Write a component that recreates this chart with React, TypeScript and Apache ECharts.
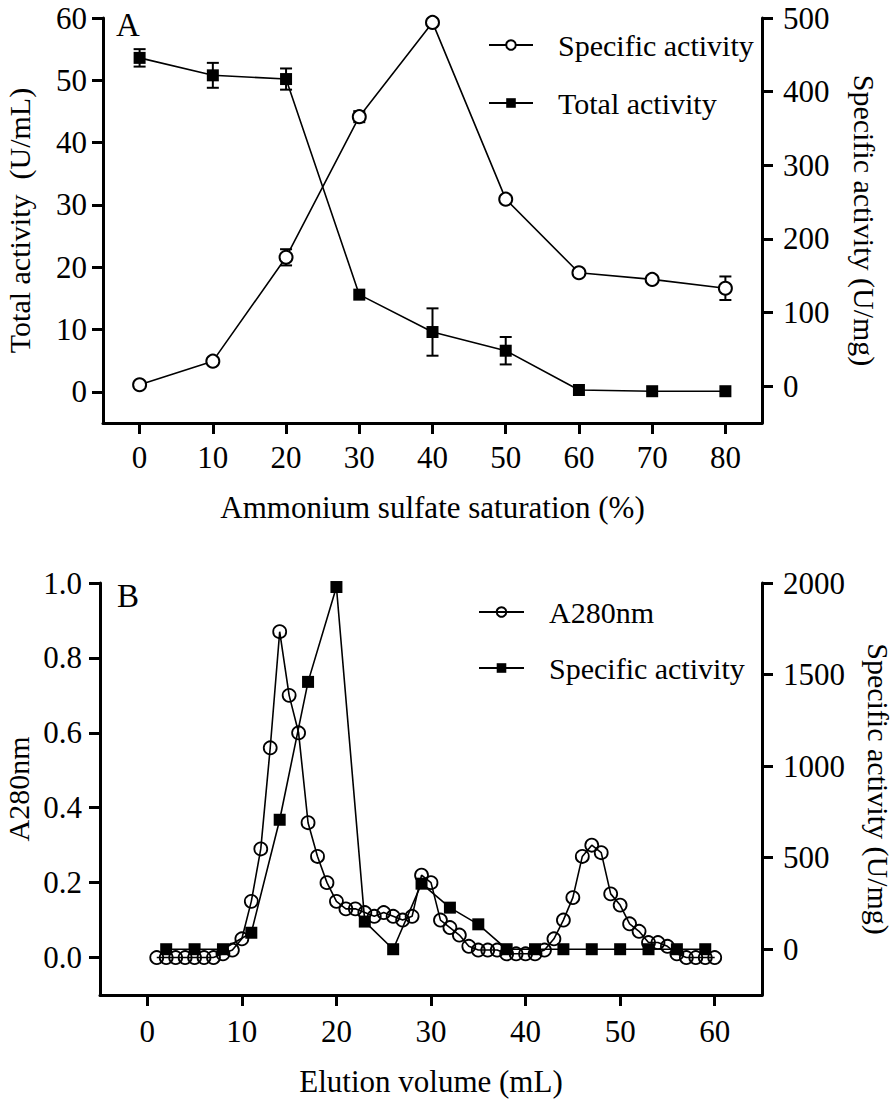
import React, { useEffect, useRef } from "react";
import * as echarts from "echarts";

// ---------- Panel A data ----------
const saturation = [0, 10, 20, 30, 40, 50, 60, 70, 80];
const totalActivity = [53.6, 50.8, 50.2, 15.6, 9.6, 6.6, 0.3, 0.1, 0.1];
const totalActivityErr = [1.4, 2.0, 1.7, 0, 3.8, 2.2, 0, 0, 0];
const specificActivityA = [2, 34, 175, 366, 494, 254, 154, 145, 133];
const specificActivityAErr = [0, 0, 11, 7.5, 0, 0, 0, 0, 16];

const aXTicks = [0, 10, 20, 30, 40, 50, 60, 70, 80];
const aLeftTicks = [0, 10, 20, 30, 40, 50, 60];
const aRightTicks = [0, 100, 200, 300, 400, 500];

// ---------- Panel B data ----------
const elutionVolume = [
  1, 2, 3, 4, 5, 6, 7, 8, 9, 10, 11, 12, 13, 14, 15, 16, 17, 18, 19, 20,
  21, 22, 23, 24, 25, 26, 27, 28, 29, 30, 31, 32, 33, 34, 35, 36, 37, 38, 39, 40,
  41, 42, 43, 44, 45, 46, 47, 48, 49, 50, 51, 52, 53, 54, 55, 56, 57, 58, 59, 60,
];
const a280 = [
  0, 0, 0, 0, 0, 0, 0, 0.01, 0.02, 0.05, 0.15, 0.29, 0.56, 0.87, 0.7, 0.6, 0.36, 0.27, 0.2, 0.15,
  0.13, 0.13, 0.12, 0.11, 0.12, 0.11, 0.1, 0.11, 0.22, 0.2, 0.1, 0.08, 0.06, 0.03, 0.02, 0.02, 0.02, 0.01, 0.01, 0.01,
  0.01, 0.02, 0.05, 0.1, 0.16, 0.27, 0.3, 0.28, 0.17, 0.14, 0.09, 0.07, 0.04, 0.04, 0.03, 0.01, 0, 0, 0, 0,
];
const fractionVolume = [2, 5, 8, 11, 14, 17, 20, 23, 26, 29, 32, 35, 38, 41, 44, 47, 50, 53, 56, 59];
const specificActivityB = [0, 0, 0, 90, 707, 1460, 1978, 151, 0, 358, 227, 136, 0, 0, 0, 0, 0, 0, 0, 0];

const bXTicks = [0, 10, 20, 30, 40, 50, 60];
const bLeftTicks = [0, 0.2, 0.4, 0.6, 0.8, 1.0];
const bRightTicks = [0, 500, 1000, 1500, 2000];

const FONT = '"Liberation Serif", "Times New Roman", Times, serif';

function axisBase(ticks: number[], margin: number, formatter: (v: number) => string, lineHeight?: number) {
  const label: any = {
    color: "#000",
    fontSize: 31,
    fontFamily: FONT,
    margin,
    customValues: ticks,
    formatter,
  };
  if (lineHeight) label.lineHeight = lineHeight;
  return {
    axisLine: { show: true, onZero: false, lineStyle: { color: "#000", width: 3 } },
    axisTick: { show: true, length: 11, lineStyle: { color: "#000", width: 3 }, customValues: ticks },
    axisLabel: label,
    splitLine: { show: false },
    nameTextStyle: { color: "#000", fontSize: 30, fontFamily: FONT },
  };
}

const plain = (v: number) => String(v);
const oneDecimal = (v: number) => v.toFixed(1);

function errorData(xs: number[], ys: number[], es: number[]) {
  const out: number[][] = [];
  xs.forEach((x, i) => {
    if (es[i] > 0) out.push([x, ys[i] - es[i], ys[i] + es[i]]);
  });
  return out;
}

function errorRender(params: any, api: any) {
  const x = api.value(0);
  const lo = api.coord([x, api.value(1)]);
  const hi = api.coord([x, api.value(2)]);
  const cap = 6;
  const style = { stroke: "#000", lineWidth: 2 };
  return {
    type: "group",
    children: [
      { type: "line", shape: { x1: lo[0], y1: lo[1], x2: hi[0], y2: hi[1] }, style },
      { type: "line", shape: { x1: lo[0] - cap, y1: lo[1], x2: lo[0] + cap, y2: lo[1] }, style },
      { type: "line", shape: { x1: hi[0] - cap, y1: hi[1], x2: hi[0] + cap, y2: hi[1] }, style },
    ],
  };
}

const circleWhite = { color: "#fff", borderColor: "#000", borderWidth: 2 };
const circleHollow = { color: "rgba(0,0,0,0)", borderColor: "#000", borderWidth: 1.8 };
const squareStyle = { color: "#000", borderColor: "#000", borderWidth: 0 };
const lineStyle = { color: "#000", width: 1.6 };

export default function App() {
  const ref = useRef<HTMLDivElement>(null);

  useEffect(() => {
    if (!ref.current) return;
    const chart = echarts.init(ref.current, null, { renderer: "svg" });

    const option: any = {
      animation: false,
      backgroundColor: "#fff",
      textStyle: { fontFamily: FONT },
      grid: [
        { left: 103, right: 134, top: 18, height: 405, outerBoundsMode: "none", containLabel: false },
        { left: 100, right: 134, top: 583, height: 412, outerBoundsMode: "none", containLabel: false },
      ],
      xAxis: [
        {
          type: "value",
          gridIndex: 0,
          min: -5,
          max: 85,
          name: "Ammonium sulfate saturation (%)",
          nameLocation: "middle",
          nameGap: 69,
          ...axisBase(aXTicks, 19, plain),
          nameTextStyle: { color: "#000", fontSize: 31, fontFamily: FONT },
        },
        {
          type: "value",
          gridIndex: 1,
          min: -5,
          max: 65,
          name: "Elution volume (mL)",
          nameLocation: "middle",
          nameGap: 71,
          ...axisBase(bXTicks, 21, plain),
          nameTextStyle: { color: "#000", fontSize: 31, fontFamily: FONT },
        },
      ],
      yAxis: [
        {
          type: "value",
          gridIndex: 0,
          position: "left",
          min: -5,
          max: 60,
          name: "Total activity  (U/mL)",
          nameLocation: "middle",
          nameGap: 69,
          nameMoveOverlap: false,
          ...axisBase(aLeftTicks, 16, plain, 20),
        },
        {
          type: "value",
          gridIndex: 0,
          position: "right",
          min: -50,
          max: 500,
          name: "Specific activity (U/mg)",
          nameLocation: "middle",
          nameRotate: -90,
          nameGap: 87,
          nameMoveOverlap: false,
          ...axisBase(aRightTicks, 21, plain, 20),
        },
        {
          type: "value",
          gridIndex: 1,
          position: "left",
          min: -0.1,
          max: 1.0,
          name: "A280nm",
          nameLocation: "middle",
          nameGap: 67,
          nameMoveOverlap: false,
          ...axisBase(bLeftTicks, 18, oneDecimal, 20),
        },
        {
          type: "value",
          gridIndex: 1,
          position: "right",
          min: -250,
          max: 2000,
          name: "Specific activity (U/mg)",
          nameLocation: "middle",
          nameRotate: -90,
          nameGap: 101,
          nameMoveOverlap: false,
          ...axisBase(bRightTicks, 21, plain, 20),
        },
      ],
      legend: [
        {
          orient: "vertical",
          left: 488,
          top: 30,
          padding: 0,
          itemWidth: 44,
          itemHeight: 12,
          itemGap: 28,
          data: ["Specific activity", "Total activity"],
          textStyle: { color: "#000", fontSize: 30, fontFamily: FONT, lineHeight: 30, padding: [0, 0, 0, 20] },
        },
        {
          orient: "vertical",
          left: 478,
          top: 597,
          padding: 0,
          itemWidth: 45,
          itemHeight: 12,
          itemGap: 26,
          data: ["A280nm", "Specific activity B"],
          formatter: (n: string) => (n === "Specific activity B" ? "Specific activity" : n),
          textStyle: { color: "#000", fontSize: 30, fontFamily: FONT, lineHeight: 30, padding: [0, 0, 0, 20] },
        },
      ],
      graphic: [
        { type: "text", left: 116, top: 8, style: { text: "A", fontSize: 33, fontFamily: FONT, fill: "#000" } },
        { type: "text", left: 117, top: 579, style: { text: "B", fontSize: 33, fontFamily: FONT, fill: "#000" } },
      ],
      series: [
        {
          type: "custom",
          name: "Total activity error",
          xAxisIndex: 0,
          yAxisIndex: 0,
          renderItem: errorRender,
          encode: { x: 0, y: [1, 2] },
          data: errorData(saturation, totalActivity, totalActivityErr),
          z: 1,
        },
        {
          type: "custom",
          name: "Specific activity error",
          xAxisIndex: 0,
          yAxisIndex: 1,
          renderItem: errorRender,
          encode: { x: 0, y: [1, 2] },
          data: errorData(saturation, specificActivityA, specificActivityAErr),
          z: 1,
        },
        {
          type: "line",
          name: "Specific activity",
          xAxisIndex: 0,
          yAxisIndex: 1,
          data: saturation.map((x, i) => [x, specificActivityA[i]]),
          symbol: "circle",
          symbolSize: 13,
          itemStyle: circleWhite,
          lineStyle,
          z: 3,
        },
        {
          type: "line",
          name: "Total activity",
          xAxisIndex: 0,
          yAxisIndex: 0,
          data: saturation.map((x, i) => [x, totalActivity[i]]),
          symbol: "rect",
          symbolSize: 12,
          itemStyle: squareStyle,
          lineStyle,
          z: 3,
        },
        {
          type: "line",
          name: "A280nm",
          xAxisIndex: 1,
          yAxisIndex: 2,
          data: elutionVolume.map((x, i) => [x, a280[i]]),
          symbol: "circle",
          symbolSize: 13,
          itemStyle: circleHollow,
          lineStyle,
          z: 3,
        },
        {
          type: "line",
          name: "Specific activity B",
          xAxisIndex: 1,
          yAxisIndex: 3,
          data: fractionVolume.map((x, i) => [x, specificActivityB[i]]),
          symbol: "rect",
          symbolSize: 12,
          itemStyle: squareStyle,
          lineStyle,
          z: 3,
        },
      ],
    };

    chart.setOption(option);
    return () => chart.dispose();
  }, []);

  return (
    <div
      ref={ref}
      style={{ position: "absolute", left: 0, top: 0, width: 896, height: 1099, background: "#fff" }}
    />
  );
}
